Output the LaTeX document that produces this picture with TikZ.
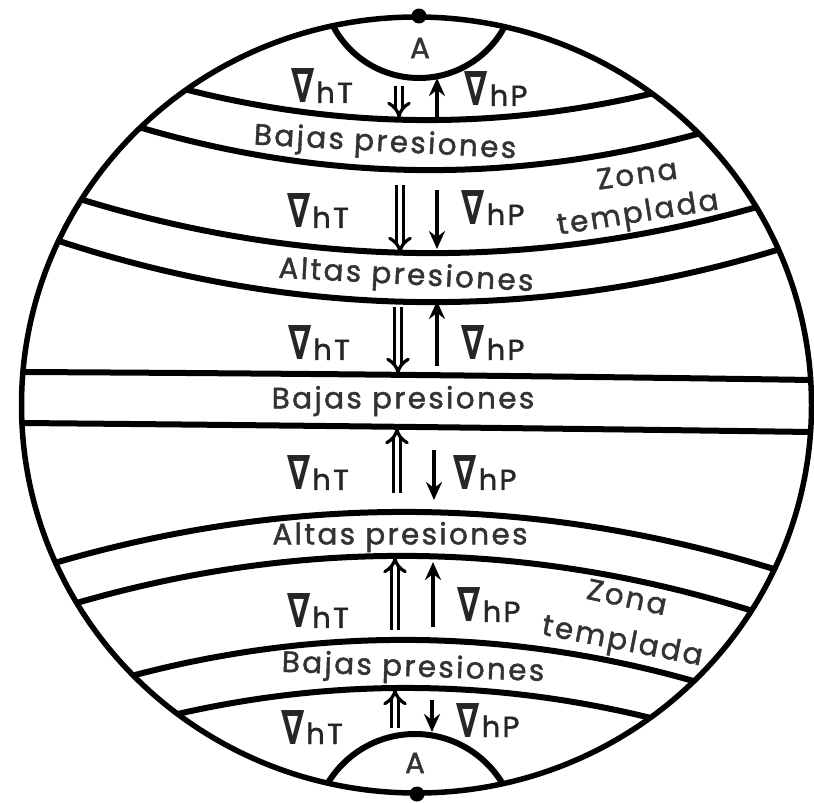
\documentclass[tikz,border=0pt]{standalone}
\usepackage{fontspec}
\usepackage{graphicx}
\setmainfont{Poppins}
\newfontfamily\lblfont{Poppins}[LetterSpace=8, FakeBold=1.5]
\newfontfamily\nablafont{DejaVu Sans}
\usetikzlibrary{arrows.meta}
\newcommand{\bandcurve}[5]{%
  \draw[bandline] plot[domain=0:8.4, samples=90, smooth]
   ({100*\x}, {#2*((\x-4.165)*(\x-#4/100)/((#1/100-4.165)*(#1/100-#4/100)))
      + #3*((\x-#1/100)*(\x-#4/100)/((4.165-#1/100)*(4.165-#4/100)))
      + #5*((\x-#1/100)*(\x-4.165)/((#4/100-#1/100)*(#4/100-4.165)))});}
\newcommand{\nab}{{\nablafont\bfseries\fontsize{35}{36}\selectfont\scalebox{0.95}[1.35]{∇}}\hspace{2pt}}
\tikzset{
  globe/.style={line width=5.5pt},
  bandline/.style={line width=6pt},
  capline/.style={line width=6pt},
  dbl/.style={double, double distance=4.5pt, line width=3.2pt, -{Implies[scale=1.25]}},
  sgl/.style={line width=3.4pt, -{Stealth[length=18pt, width=16pt, inset=6pt]}},
  lbl/.style={font=\lblfont\fontsize{29.5}{32}\selectfont, inner sep=0pt, text=black!80},
  grad/.style={font=\lblfont\fontsize{29}{32}\selectfont, inner sep=0pt, text=black!85},
  dot/.style={circle, fill=black, minimum size=15pt, inner sep=0pt}
}
\begin{document}
\begin{tikzpicture}[x=1pt,y=-1pt]
\useasboundingbox (0,0) rectangle (814,803);
\fill[white] (0,0) rectangle (814,803);
\begin{scope}
  \clip (416.5,405) ellipse [x radius=395pt, y radius=388pt];
  % band boundaries
  \bandcurve{188}{90}{120}{654}{93}
  \bandcurve{142}{128}{170}{701}{133}
  \bandcurve{83}{200}{253}{757}{207}
  \bandcurve{62}{242}{302}{777}{250}
  \bandcurve{23}{372}{375}{812}{380}
  \bandcurve{22}{423}{427}{811}{432}
  \bandcurve{58}{562}{512}{777}{570}
  \bandcurve{80}{602}{556}{756}{612}
  \bandcurve{135}{675}{640}{697}{682}
  \bandcurve{182}{713}{688}{651}{718}
  % polar caps
  \draw[capline] (419,-19) circle [radius=97pt];
  \draw[capline] (415,836) circle [radius=102pt];
\end{scope}
\draw[globe] (416.5,405) ellipse [x radius=395pt, y radius=388pt];
\node[dot] (npole) at (419,16) {};
\node[dot] (spole) at (417,794) {};

% labels
\node[lbl] (An) at (420,48) {A};
\node[lbl] (As) at (415,763) {A};

\node[grad] (tA) at (322,86) {\nab hT};
\node[grad] (pA) at (496,89) {\nab hP};
\node[grad] (tC) at (318,211) {\nab hT};
\node[grad] (pC) at (493,208) {\nab hP};
\node[grad] (tE) at (319,343) {\nab hT};
\node[grad] (pE) at (493,343) {\nab hP};
\node[grad] (tG) at (318,473) {\nab hT};
\node[grad] (pG) at (485,473) {\nab hP};
\node[grad] (tI) at (318,611) {\nab hT};
\node[grad] (pI) at (489,605) {\nab hP};
\node[grad] (tK) at (312,727) {\nab hT};
\node[grad] (pK) at (488,720) {\nab hP};

\node[lbl, rotate=-3] (b1) at (385,144) {Bajas presiones};
\node[lbl, rotate=-3] (a1) at (406,277) {Altas presiones};
\node[lbl] (b2) at (403,401) {Bajas presiones};
\node[lbl] (a2) at (400,537) {Altas presiones};
\node[lbl, rotate=-2] (b3) at (413,669) {Bajas presiones};
\node[lbl, rotate=8] (z1) at (637,174) {Zona};
\node[lbl, rotate=9] (t1) at (638,215) {templada};
\node[lbl, rotate=-12] (z2) at (627,597) {Zona};
\node[lbl, rotate=-11] (t2) at (622,643) {templada};

% arrows
\coordinate (A1s) at (399,86);  \coordinate (A1e) at (399,118);
\coordinate (A2s) at (437,120); \coordinate (A2e) at (437,78);
\coordinate (C1s) at (400,185); \coordinate (C1e) at (400,253);
\coordinate (C2s) at (437,190); \coordinate (C2e) at (437,249);
\coordinate (E1s) at (398,307); \coordinate (E1e) at (398,374);
\coordinate (E2s) at (437,366); \coordinate (E2e) at (437,301);
\coordinate (G1s) at (397,493); \coordinate (G1e) at (397,428);
\coordinate (G2s) at (434,450); \coordinate (G2e) at (434,500);
\coordinate (I1s) at (395,630); \coordinate (I1e) at (395,557);
\coordinate (I2s) at (433,627); \coordinate (I2e) at (433,562);
\coordinate (K1s) at (395,728); \coordinate (K1e) at (395,689);
\coordinate (K2s) at (432,700); \coordinate (K2e) at (432,732);
\draw[dbl] (A1s) -- (A1e);
\draw[sgl] (A2s) -- (A2e);
\draw[dbl] (C1s) -- (C1e);
\draw[sgl] (C2s) -- (C2e);
\draw[dbl] (E1s) -- (E1e);
\draw[sgl] (E2s) -- (E2e);
\draw[dbl] (G1s) -- (G1e);
\draw[sgl] (G2s) -- (G2e);
\draw[dbl] (I1s) -- (I1e);
\draw[sgl] (I2s) -- (I2e);
\draw[dbl] (K1s) -- (K1e);
\draw[sgl] (K2s) -- (K2e);
\end{tikzpicture}
\end{document}
